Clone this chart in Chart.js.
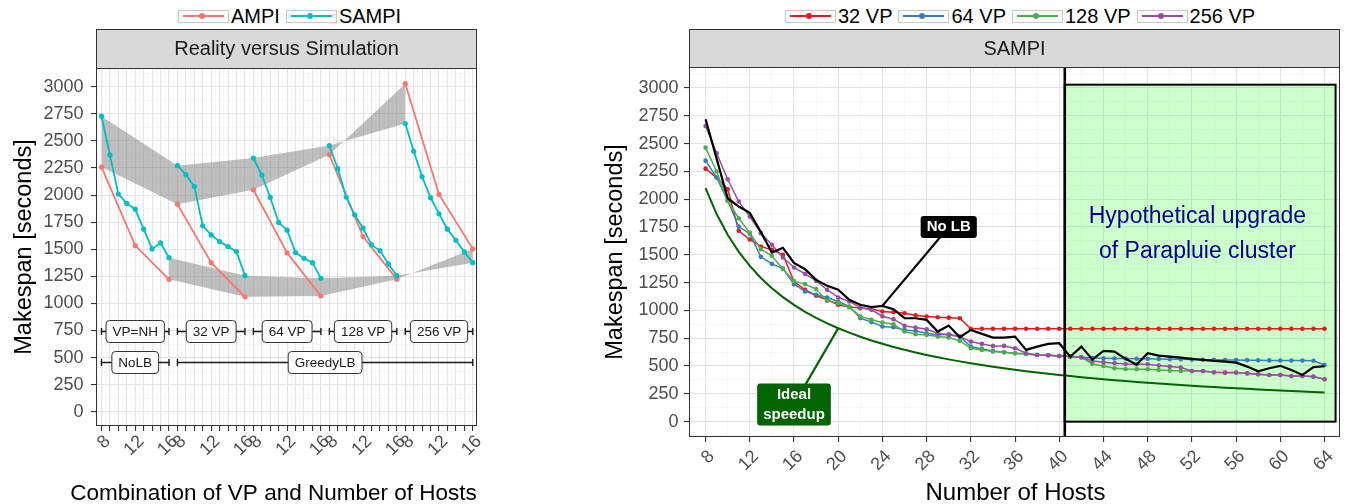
<!DOCTYPE html>
<html>
<head>
<meta charset="utf-8">
<script src="https://cdn.jsdelivr.net/npm/chart.js@4.4.0/dist/chart.umd.min.js"></script>
<style>
html, body { margin: 0; padding: 0; background: #fff; }
body { width: 1355px; height: 504px; position: relative; overflow: hidden; font-family: "Liberation Sans", Arial, sans-serif; }
.box { position: absolute; top: 0; height: 504px; }
.legend { position: absolute; top: 5px; display: flex; align-items: center; height: 22px; font-size: 20px; color: #000; white-space: nowrap; }
.key { position: relative; box-sizing: border-box; width: 51px; height: 13px; border: 1.5px solid #c8c8c8; margin-right: 2px; }
.key i { position: absolute; left: 4px; right: 4px; top: 4px; height: 2px; }
.key b { position: absolute; left: 20px; top: 2px; width: 6px; height: 6px; border-radius: 50%; }
.legend span { margin-right: 6px; }
</style>
</head>
<body>
<div class="legend" style="left:178px">
  <div class="key"><i style="background:#F8766D"></i><b style="background:#F8766D"></b></div><span>AMPI</span>
  <div class="key"><i style="background:#00BFC4"></i><b style="background:#00BFC4"></b></div><span>SAMPI</span>
</div>
<div class="legend" style="left:785px">
  <div class="key"><i style="background:#E41A1C"></i><b style="background:#E41A1C"></b></div><span>32 VP</span>
  <div class="key"><i style="background:#377EB8"></i><b style="background:#377EB8"></b></div><span>64 VP</span>
  <div class="key"><i style="background:#4DAF4A"></i><b style="background:#4DAF4A"></b></div><span>128 VP</span>
  <div class="key"><i style="background:#984EA3"></i><b style="background:#984EA3"></b></div><span>256 VP</span>
</div>
<div class="box" style="left:0;width:560px"><canvas id="left" width="560" height="504"></canvas></div>
<div class="box" style="left:560px;width:795px"><canvas id="right" width="795" height="504"></canvas></div>
<script>
// ---- left panel: reality versus simulation ----
const vpGroups = ['VP=NH', '32 VP', '64 VP', '128 VP', '256 VP'];
const groupHosts = [8, 9, 10, 11, 12, 13, 14, 15, 16];
const ampiHosts = [8, 12, 16];
const leftTickHosts = [8, 12, 16];
const ampiMakespan = [
  [2258, 1534, 1222],
  [1916, 1376, 1061],
  [2049, 1466, 1068],
  [2373, 1617, 1222],
  [3028, 2006, 1503]
];
const sampiMakespan = [
  [2728, 2370, 2009, 1923, 1870, 1685, 1503, 1558, 1422],
  [2271, 2188, 2080, 1716, 1632, 1571, 1524, 1478, 1256],
  [2342, 2185, 1978, 1747, 1676, 1469, 1416, 1376, 1231],
  [2457, 2244, 1981, 1818, 1694, 1540, 1487, 1364, 1256],
  [2660, 2404, 2169, 1975, 1827, 1685, 1583, 1475, 1376]
];
const lbLabels = ['NoLB', 'GreedyLB'];
const lbFirstGroup = [0, 1];
const lbLastGroup = [0, 4];
const vpRowLevel = 745;
const lbRowLevel = 455;

// ---- right panel: SAMPI ----
const hosts = [8, 9, 10, 11, 12, 13, 14, 15, 16, 17, 18, 19, 20, 21, 22, 23, 24, 25, 26, 27, 28, 29, 30, 31, 32, 33, 34, 35, 36,
  37, 38, 39, 40, 41, 42, 43, 44, 45, 46, 47, 48, 49, 50, 51, 52, 53, 54, 55, 56, 57, 58, 59, 60, 61, 62, 63, 64];
const vp32 = [2275, 2195, 2090, 1716, 1638, 1575, 1545, 1500, 1260, 1186, 1132, 1096, 1051, 1030, 1021, 1012,
  990, 984, 975, 956, 945, 939, 935, 930,
  836, 836, 836, 836, 836, 836, 836, 836, 836, 836, 836, 836, 836, 836, 836, 836, 836,
  836, 836, 836, 836, 836, 836, 836, 836, 836, 836, 836, 836, 836, 836, 836, 836];
const vp64 = [2347, 2195, 1988, 1754, 1690, 1482, 1419, 1376, 1236, 1171, 1141, 1117, 1081, 1036, 931, 895,
  855, 849, 825, 816, 795, 780, 786, 765, 675, 654, 636, 624, 615, 609, 600, 597, 591,
  585, 579, 572, 570, 568, 567, 566, 565, 563, 561, 560, 558, 557, 556, 555, 554, 553, 552, 551, 550, 549, 549, 548, 510];
const vp128 = [2464, 2249, 1985, 1829, 1698, 1551, 1491, 1372, 1263, 1237, 1192, 1087, 1066, 1030, 946, 916,
  891, 876, 810, 786, 780, 765, 756, 726, 660, 645, 630, 624, 615, 609, 600, 597, 591,
  585, 579, 519, 501, 480, 474, 471, 471, 465, 459, 456, 455, 453, 444, 440, 440, 434, 426, 420, 419, 411, 410, 404, 381];
const vp256 = [2659, 2413, 2180, 1979, 1844, 1695, 1590, 1476, 1386, 1329, 1266, 1186, 1117, 1081, 1027, 1006,
  948, 921, 861, 846, 831, 795, 780, 765, 720, 699, 681, 681, 660, 615, 600, 597, 591,
  585, 579, 546, 534, 525, 519, 516, 516, 504, 495, 486, 456, 456, 444, 441, 441, 435, 426, 420, 420, 411, 411, 405, 381];
const noLB = [2719, 2365, 2009, 1934, 1877, 1705, 1520, 1563, 1428, 1371, 1275, 1222, 1186, 1096, 1051, 1030,
  1041, 1011, 930, 930, 915, 810, 864, 759, 825, 789, 756, 756, 765, 645, 675, 699,
  705, 585, 675, 558, 636, 630, 565, 513, 615, 594, 585, 576, 564, 555, 546, 540, 531, 495, 453, 480, 502, 465, 420, 490, 498];
const idealSpeedup = [2100, 1867, 1680, 1527, 1400, 1292, 1200, 1120, 1050, 988, 933, 884, 840, 800, 764, 730,
  700, 672, 646, 622, 600, 579, 560, 542, 525, 509, 494, 480, 467, 454, 442, 431,
  420, 410, 400, 391, 382, 373, 365, 357, 350, 343, 336, 329, 323, 317, 311, 305, 300, 295, 290, 285, 280, 275, 271, 267, 263];
const vpNames = ['32 VP', '64 VP', '128 VP', '256 VP'];
const upgradeStart = 40.5;
const upgradeEnd = 65;
const upgradeTop = 3030;
const upgradeText = ['Hypothetical upgrade', 'of Parapluie cluster'];
const upgradeTextAt = [52.5, 1845, 1530];
const noLbTag = { at: [30, 1750], host: 24 };
const idealTag = { at: [16, 155], host: 20 };

const FONT = '"Liberation Sans", Arial, sans-serif';
const TITLE_SIZE = 23.5;
const isMult = (v, s) => Math.abs(v / s - Math.round(v / s)) < 1e-6;
const slot = (g, h) => g * groupHosts.length + (h - groupHosts[0]);
const toPoints = vals => vals.map((v, i) => ({ x: hosts[i], y: v }));

function gridFor(major) {
  return {
    color: c => isMult(c.tick.value, major) ? '#e3e3e3' : '#f1f1f1',
    lineWidth: c => isMult(c.tick.value, major) ? 1.1 : 0.6,
    tickLength: 5,
    tickWidth: 1.1,
    tickColor: c => isMult(c.tick.value, major) ? '#333333' : 'rgba(0,0,0,0)'
  };
}

function framePlugin(title, xTitle, xTitleSize, xTitleShift) {
  return {
    id: 'frame',
    afterDraw(chart) {
      const { ctx, chartArea: a } = chart;
      const top = 29;
      ctx.save();
      ctx.fillStyle = '#d9d9d9';
      ctx.fillRect(a.left, top, a.right - a.left, a.top - top);
      ctx.strokeStyle = '#333333';
      ctx.lineWidth = 1;
      ctx.strokeRect(a.left + 0.5, top + 0.5, a.right - a.left - 1, a.top - top);
      ctx.strokeRect(a.left + 0.5, a.top + 0.5, a.right - a.left - 1, a.bottom - a.top - 1);
      ctx.fillStyle = '#1a1a1a';
      ctx.font = '20px ' + FONT;
      ctx.textAlign = 'center';
      ctx.textBaseline = 'middle';
      ctx.fillText(title, (a.left + a.right) / 2, (top + a.top) / 2 + 1);
      // x axis title
      ctx.fillStyle = '#000';
      ctx.font = xTitleSize + 'px ' + FONT;
      ctx.textBaseline = 'alphabetic';
      ctx.fillText(xTitle, (a.left + a.right) / 2 + xTitleShift, chart.height - 4);
      ctx.restore();
    }
  };
}

function roundBox(ctx, x, y, w, h, r) {
  ctx.beginPath();
  ctx.moveTo(x + r, y);
  ctx.arcTo(x + w, y, x + w, y + h, r);
  ctx.arcTo(x + w, y + h, x, y + h, r);
  ctx.arcTo(x, y + h, x, y, r);
  ctx.arcTo(x, y, x + w, y, r);
  ctx.closePath();
}

const brackets = {
  id: 'brackets',
  afterDatasetsDraw(chart) {
    const { ctx, scales: { x, y } } = chart;
    ctx.save();
    ctx.font = '13.5px ' + FONT;
    ctx.textAlign = 'center';
    ctx.textBaseline = 'middle';
    function bracket(from, to, level, label) {
      const x0 = x.getPixelForValue(from), x1 = x.getPixelForValue(to);
      const py = Math.round(y.getPixelForValue(level)) + 0.5;
      ctx.strokeStyle = '#1a1a1a';
      ctx.lineWidth = 1.4;
      ctx.beginPath();
      ctx.moveTo(x0, py); ctx.lineTo(x1, py);
      ctx.moveTo(x0, py - 3.5); ctx.lineTo(x0, py + 3.5);
      ctx.moveTo(x1, py - 3.5); ctx.lineTo(x1, py + 3.5);
      ctx.stroke();
      const w = ctx.measureText(label).width + 13;
      const cx = (x0 + x1) / 2;
      roundBox(ctx, cx - w / 2, py - 11, w, 22, 3.5);
      ctx.fillStyle = '#ffffff';
      ctx.fill();
      ctx.lineWidth = 1;
      ctx.strokeStyle = '#333333';
      ctx.stroke();
      ctx.fillStyle = '#1a1a1a';
      ctx.fillText(label, cx, py + 0.5);
    }
    const last = groupHosts[groupHosts.length - 1];
    vpGroups.forEach((name, g) => bracket(slot(g, groupHosts[0]), slot(g, last), vpRowLevel, name));
    lbLabels.forEach((name, i) => bracket(slot(lbFirstGroup[i], groupHosts[0]), slot(lbLastGroup[i], last), lbRowLevel, name));
    ctx.restore();
  }
};

function gapped(hostList, valuesByGroup) {
  const pts = [];
  const last = groupHosts[groupHosts.length - 1];
  valuesByGroup.forEach((vals, g) => {
    vals.forEach((v, k) => pts.push({ x: slot(g, hostList[k]), y: v }));
    pts.push({ x: slot(g, last) + 0.5, y: null });
  });
  return pts;
}

const lastHost = groupHosts[groupHosts.length - 1];
const ribbon = 'rgba(127,127,127,0.5)';
const plain = { borderColor: 'rgba(0,0,0,0)', borderWidth: 0, pointRadius: 0 };

new Chart(document.getElementById('left'), {
  type: 'line',
  data: {
    datasets: [
      Object.assign({ data: ampiMakespan.map((v, g) => ({ x: slot(g, groupHosts[0]), y: v[0] })), fill: false, order: 10 }, plain),
      Object.assign({ data: sampiMakespan.map((v, g) => ({ x: slot(g, groupHosts[0]), y: v[0] })), fill: '-1', backgroundColor: ribbon, order: 9 }, plain),
      Object.assign({ data: ampiMakespan.map((v, g) => ({ x: slot(g, lastHost), y: v[v.length - 1] })), fill: false, order: 8 }, plain),
      Object.assign({ data: sampiMakespan.map((v, g) => ({ x: slot(g, lastHost), y: v[v.length - 1] })), fill: '-1', backgroundColor: ribbon, order: 7 }, plain),
      { label: 'AMPI', data: gapped(ampiHosts, ampiMakespan), borderColor: '#F8766D', backgroundColor: '#F8766D',
        borderWidth: 1.8, pointRadius: 2.6, pointBorderWidth: 0, spanGaps: false, fill: false, order: 2 },
      { label: 'SAMPI', data: gapped(groupHosts, sampiMakespan), borderColor: '#00BFC4', backgroundColor: '#00BFC4',
        borderWidth: 1.8, pointRadius: 2.6, pointBorderWidth: 0, spanGaps: false, fill: false, order: 1 }
    ]
  },
  options: {
    responsive: false,
    animation: false,
    layout: { padding: { left: 0, top: 68, right: 83, bottom: 0 } },
    elements: { line: { tension: 0 } },
    plugins: { legend: { display: false }, tooltip: { enabled: false } },
    scales: {
      x: {
        type: 'linear', min: -0.65, max: 44.5,
        afterFit: s => { s.height = 78; },
        border: { display: false },
        grid: gridFor(1),
        ticks: {
          stepSize: 0.5, includeBounds: false, autoSkip: false, minRotation: 45, maxRotation: 45,
          padding: 0, labelOffset: 6,
          color: '#4d4d4d', font: { size: 18, family: FONT },
          callback: v => {
            if (!isMult(v, 1)) return '';
            const h = groupHosts[Math.round(v) % groupHosts.length];
            return leftTickHosts.includes(h) ? String(h) : '';
          }
        },
        title: { display: false }
      },
      y: {
        type: 'linear', min: -132, max: 3173,
        afterFit: s => { s.width = 96; },
        border: { display: false },
        grid: gridFor(250),
        ticks: {
          stepSize: 125, includeBounds: false, autoSkip: false, padding: 7.5,
          color: '#4d4d4d', font: { size: 18, family: FONT },
          callback: v => (v >= 0 && isMult(v, 250)) ? String(v) : ''
        },
        title: { display: true, text: 'Makespan [seconds]', color: '#000',
          font: { size: TITLE_SIZE, family: FONT, lineHeight: 1.2 }, padding: { top: 10, bottom: 0 } }
      }
    }
  },
  plugins: [framePlugin('Reality versus Simulation', 'Combination of VP and Number of Hosts', 22.5, -13), brackets]
});

// ---- right chart ----
function drawTag(ctx, lines, cx, cy, bg) {
  ctx.font = 'bold 15px ' + FONT;
  const w = Math.max(...lines.map(t => ctx.measureText(t).width)) + 12;
  const h = lines.length * 20 + 2;
  roundBox(ctx, cx - w / 2, cy - h / 2, w, h, 3);
  ctx.fillStyle = bg;
  ctx.fill();
  ctx.fillStyle = '#ffffff';
  ctx.textAlign = 'center';
  ctx.textBaseline = 'middle';
  lines.forEach((t, i) => ctx.fillText(t, cx, cy - h / 2 + 11 + i * 20));
}

const rightNotes = {
  id: 'rightNotes',
  beforeDatasetsDraw(chart) {
    const { ctx, scales: { x, y } } = chart;
    const x0 = x.getPixelForValue(upgradeStart), x1 = x.getPixelForValue(upgradeEnd);
    const y0 = y.getPixelForValue(0), y1 = y.getPixelForValue(upgradeTop);
    ctx.save();
    ctx.fillStyle = 'rgba(0,255,0,0.2)';
    ctx.fillRect(x0, y1, x1 - x0, y0 - y1);
    ctx.fillStyle = '#00008B';
    ctx.font = '23px ' + FONT;
    ctx.textAlign = 'center';
    ctx.textBaseline = 'middle';
    upgradeText.forEach((t, i) => ctx.fillText(t, x.getPixelForValue(upgradeTextAt[0]), y.getPixelForValue(upgradeTextAt[1 + i])));
    ctx.restore();
  },
  afterDatasetsDraw(chart) {
    const { ctx, chartArea: a, scales: { x, y } } = chart;
    const x0 = x.getPixelForValue(upgradeStart), x1 = x.getPixelForValue(upgradeEnd);
    const y0 = y.getPixelForValue(0), y1 = y.getPixelForValue(upgradeTop);
    ctx.save();
    ctx.strokeStyle = '#000';
    ctx.lineWidth = 2;
    ctx.strokeRect(x0, y1, x1 - x0, y0 - y1);
    ctx.lineWidth = 2.6;
    ctx.beginPath();
    ctx.moveTo(x0, a.top); ctx.lineTo(x0, a.bottom);
    ctx.stroke();

    const tag = (t, series, lines, color) => {
      const cx = x.getPixelForValue(t.at[0]), cy = y.getPixelForValue(t.at[1]);
      const i = hosts.indexOf(t.host);
      ctx.strokeStyle = color;
      ctx.lineWidth = 2.2;
      ctx.beginPath();
      ctx.moveTo(cx, cy);
      ctx.lineTo(x.getPixelForValue(t.host), y.getPixelForValue(series[i]));
      ctx.stroke();
      drawTag(ctx, lines, cx, cy, color);
    };
    tag(noLbTag, noLB, ['No LB'], '#000000');
    tag(idealTag, idealSpeedup, ['Ideal', 'speedup'], '#006400');
    ctx.restore();
  }
};

const vpColors = ['#E41A1C', '#377EB8', '#4DAF4A', '#984EA3'];
const vpSeries = [vp32, vp64, vp128, vp256];
const rightSets = vpSeries.map((s, k) => ({
  label: vpNames[k], data: toPoints(s), borderColor: vpColors[k], backgroundColor: vpColors[k],
  borderWidth: 1.5, pointRadius: 2.3, pointBorderWidth: 0, fill: false, order: 10 - k
}));
rightSets.push({ label: 'No LB', data: toPoints(noLB), borderColor: '#000000', borderWidth: 2.2, pointRadius: 0, fill: false, order: 2 });
rightSets.push({ label: 'Ideal', data: toPoints(idealSpeedup), borderColor: '#006400', borderWidth: 2, pointRadius: 0, fill: false, order: 1 });

new Chart(document.getElementById('right'), {
  type: 'line',
  data: { datasets: rightSets },
  options: {
    responsive: false,
    animation: false,
    layout: { padding: { left: 0, top: 67, right: 15, bottom: 0 } },
    elements: { line: { tension: 0 } },
    plugins: { legend: { display: false }, tooltip: { enabled: false } },
    scales: {
      x: {
        type: 'linear', min: 6.5, max: 65.4,
        afterFit: s => { s.height = 67; },
        border: { display: false },
        grid: gridFor(4),
        ticks: {
          stepSize: 2, includeBounds: false, autoSkip: false, minRotation: 45, maxRotation: 45,
          padding: 4, labelOffset: 6,
          color: '#4d4d4d', font: { size: 18, family: FONT },
          callback: v => isMult(v, 4) ? String(v) : ''
        },
        title: { display: false }
      },
      y: {
        type: 'linear', min: -138, max: 3189,
        afterFit: s => { s.width = 129; },
        border: { display: false },
        grid: gridFor(250),
        ticks: {
          stepSize: 125, includeBounds: false, autoSkip: false, padding: 5.5,
          color: '#4d4d4d', font: { size: 18, family: FONT },
          callback: v => (v >= 0 && isMult(v, 250)) ? String(v) : ''
        },
        title: { display: true, text: 'Makespan [seconds]', color: '#000',
          font: { size: TITLE_SIZE, family: FONT, lineHeight: 1.2 }, padding: { top: 41, bottom: 0 } }
      }
    }
  },
  plugins: [framePlugin('SAMPI', 'Number of Hosts', 24, 1), rightNotes]
});
</script>
</body>
</html>
